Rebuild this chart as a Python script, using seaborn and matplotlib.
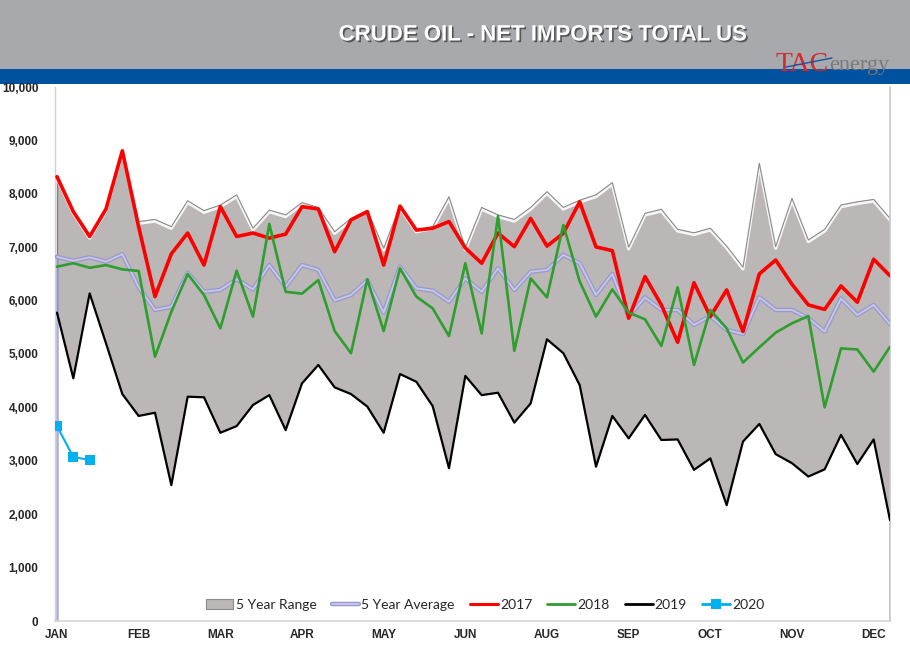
import numpy as np
import matplotlib
matplotlib.use("Agg")
import matplotlib.pyplot as plt
import matplotlib.patheffects as pe
from matplotlib.patches import Patch, Rectangle
from matplotlib.lines import Line2D
import seaborn as sns

# weekly net imports, kb/d
weeks = np.arange(1, 53)
months = ["JAN", "FEB", "MAR", "APR", "MAY", "JUN", "AUG", "SEP", "OCT", "NOV", "DEC"]

y2017 = [8320, 7665, 7200, 7715, 8805, 7380, 6075, 6875, 7265, 6665,
         7760, 7200, 7265, 7170, 7245, 7760, 7715, 6915, 7510, 7665,
         6665, 7770, 7320, 7355, 7480, 6985, 6700, 7265, 7010, 7540,
         7020, 7260, 7850, 7005, 6935, 5670, 6450, 5920, 5220, 6335,
         5700, 6200, 5420, 6500, 6760, 6305, 5920, 5835, 6275, 5970,
         6775, 6465]
y2018 = [6635, 6700, 6615, 6665, 6585, 6555, 4950, 5790, 6500, 6105,
         5480, 6560, 5700, 7435, 6165, 6130, 6385, 5430, 5015, 6400,
         5430, 6605, 6075, 5855, 5335, 6700, 5385, 7585, 5060, 6415,
         6060, 7415, 6360, 5700, 6210, 5775, 5650, 5150, 6250, 4795,
         5825, 5480, 4840, 5125, 5400, 5575, 5710, 4000, 5105, 5085,
         4670, 5135]
y2019 = [5775, 4545, 6135, 5200, 4250, 3840, 3900, 2545, 4200, 4190,
         3525, 3650, 4045, 4230, 3575, 4450, 4795, 4375, 4250, 4015,
         3525, 4625, 4480, 4025, 2860, 4590, 4230, 4275, 3715, 4075,
         5275, 5015, 4420, 2890, 3840, 3420, 3860, 3390, 3400, 2830,
         3045, 2170, 3360, 3690, 3125, 2955, 2705, 2840, 3485, 2940,
         3400, 1890]
y2020 = [3650, 3070, 3015]
avg5 = [6820, 6745, 6810, 6730, 6870, 6250, 5825, 5885, 6525, 6165,
        6200, 6400, 6210, 6665, 6260, 6665, 6575, 6005, 6105, 6385,
        5775, 6635, 6230, 6185, 5980, 6415, 6165, 6605, 6200, 6540,
        6575, 6855, 6700, 6105, 6500, 5700, 6060, 5825, 5825, 5545,
        5710, 5450, 5375, 6060, 5825, 5825, 5670, 5420, 6040, 5730,
        5920, 5560]
range_high = [8320, 7665, 7200, 7715, 8805, 7480, 7520, 7385, 7870, 7685,
              7790, 7980, 7355, 7695, 7605, 7835, 7745, 7290, 7540, 7695,
              6980, 7770, 7320, 7385, 7945, 6985, 7745, 7605, 7520, 7745,
              8040, 7745, 7880, 7980, 8210, 7000, 7635, 7710, 7335, 7270,
              7355, 7020, 6625, 8570, 7010, 7915, 7135, 7335, 7790, 7850,
              7895, 7540]
# the lower edge of the range band follows 2019 all year
range_low = list(y2019)

c_range = "#bcb7b7"
c_avg = "#c6c6e6"
c_avg_edge = "#9898cc"
c_2017 = "#ff0000"
c_2018 = "#2e9e2e"
c_2019 = "#000000"
c_2020 = "#00b0f0"

sns.set_style("white")
plt.rcParams["font.family"] = ["Liberation Sans", "DejaVu Sans"]

fig = plt.figure(figsize=(9.1, 6.59), dpi=100)
W, H = 910, 659

# header bands
fig.add_artist(Rectangle((0, 1 - 69 / H), 1, 69 / H, transform=fig.transFigure,
                         facecolor="#a8a9ad", edgecolor="none", zorder=0))
fig.add_artist(Rectangle((0, 1 - 84 / H), 1, 15 / H, transform=fig.transFigure,
                         facecolor="#0052a0", edgecolor="none", zorder=0))
fig.text(543 / W, 1 - 35 / H, "CRUDE OIL - NET IMPORTS TOTAL US", color="white",
         fontsize=16, fontweight="bold", ha="center", va="center",
         path_effects=[pe.withSimplePatchShadow(offset=(1.2, -1.2),
                                                shadow_rgbFace="#333333", alpha=0.7)])
fig.text(775 / W, 1 - 71 / H, "TAC", color="#d7282f", fontsize=20,
         family="Liberation Serif", ha="left", va="baseline", zorder=3)
fig.text(829 / W, 1 - 70 / H, "energy", color="#7a7a7a", fontsize=16,
         family="Liberation Serif", ha="left", va="baseline", zorder=3)
fig.add_artist(Line2D([786 / W, 832 / W], [1 - 67 / H, 1 - 58 / H],
                      transform=fig.transFigure, color="#1f4fa0", lw=1, zorder=4))

ax = fig.add_axes([55 / W, 1 - 621 / H, 835 / W, 534 / H])

ax.fill_between(weeks, range_low, range_high, facecolor=c_range,
                edgecolor="none", zorder=1)
ax.vlines([weeks[0], weeks[-1]], [range_low[0], range_low[-1]],
          [range_high[0], range_high[-1]], color="#808080", lw=1, zorder=1.5)
sns.lineplot(x=weeks, y=range_high, ax=ax, color="#8a8a8a", lw=0.8, zorder=1.6,
             path_effects=[pe.Stroke(linewidth=2.2, foreground="#f6f6f6", offset=(0, -1.3)),
                           pe.Normal()])
ax.vlines([weeks[0], weeks[-1]], 0, [avg5[0], avg5[-1]], color=c_avg_edge, lw=1.8,
          alpha=0.8, zorder=2)

avg_fx = [pe.Stroke(linewidth=3.2, foreground=c_avg_edge), pe.Normal()]
sns.lineplot(x=weeks, y=avg5, ax=ax, color=c_avg, lw=1.4, zorder=3, path_effects=avg_fx)
sns.lineplot(x=weeks, y=y2017, ax=ax, color=c_2017, lw=2.6, zorder=4)
sns.lineplot(x=weeks, y=y2018, ax=ax, color=c_2018, lw=1.9, zorder=5)
sns.lineplot(x=weeks, y=y2019, ax=ax, color=c_2019, lw=1.6, zorder=6)
sns.lineplot(x=weeks[:len(y2020)], y=y2020, ax=ax, color=c_2020, lw=1.5,
             marker="s", markersize=7, markeredgewidth=0, zorder=7)

ax.set_xlim(weeks[0] - 0.122, weeks[-1])
ax.set_ylim(0, 10000)
ax.set_xticks(weeks[::5])
ax.set_xticklabels(months, fontsize=8.5, fontweight="bold")
ax.set_yticks(range(0, 10001, 1000))
ax.set_yticklabels([f"{v:,}" for v in range(0, 10001, 1000)],
                   fontsize=8.5, fontweight="bold")
ax.tick_params(axis="both", length=0)
ax.tick_params(axis="y", pad=12)
ax.tick_params(axis="x", pad=6)
ax.set_xlabel("")
ax.set_ylabel("")
ax.grid(False)
ax.spines["top"].set_visible(False)
ax.spines["left"].set_color("#d0d0dc")
ax.spines["left"].set_linewidth(1.0)
ax.spines["bottom"].set_color("#d4d4d4")
ax.spines["bottom"].set_linewidth(1.2)
ax.spines["right"].set_color("#c8c8d0")
ax.spines["right"].set_linewidth(1.2)

handles = [
    Patch(facecolor=c_range, edgecolor="#8a8a8a", lw=0.8),
    Line2D([], [], color=c_avg, lw=1.4, path_effects=avg_fx),
    Line2D([], [], color=c_2017, lw=2.2),
    Line2D([], [], color=c_2018, lw=2),
    Line2D([], [], color=c_2019, lw=2),
    Line2D([], [], color=c_2020, lw=2, marker="s", markersize=7, markeredgewidth=0),
]
labels = ["5 Year Range", "5 Year Average", "2017", "2018", "2019", "2020"]
fig.legend(handles, labels, loc="center", bbox_to_anchor=(485 / W, 1 - 605 / H),
           ncol=6, frameon=False, prop={"family": "Lato", "size": 10},
           handlelength=2.0, handletextpad=0.15, columnspacing=1.1)

plt.savefig("out.png", dpi=100)
